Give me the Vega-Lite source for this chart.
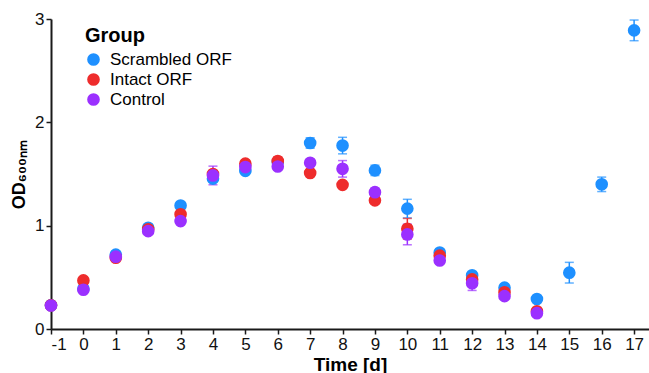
{
  "$schema": "https://vega.github.io/schema/vega-lite/v6.json",
  "width": 598,
  "height": 310,
  "autosize": {"type": "none"},
  "padding": {"left": 51, "top": 19, "right": 0, "bottom": 44},
  "background": "white",
  "config": {
    "view": {"stroke": null},
    "font": "Liberation Sans",
    "axis": {
      "grid": false,
      "domainColor": "#1a1a1a",
      "domainWidth": 2,
      "tickColor": "#1a1a1a",
      "tickWidth": 1.5,
      "tickSize": 5,
      "labelFont": "Liberation Sans",
      "labelFontSize": 17,
      "labelColor": "#111",
      "labelPadding": 2,
      "titleFont": "Liberation Sans",
      "titleFontSize": 18,
      "titleFontWeight": "bold",
      "titleColor": "#000"
    },
    "legend": {
      "titleFont": "Liberation Sans",
      "titleFontSize": 20,
      "titleFontWeight": "bold",
      "titleColor": "#000",
      "labelFont": "Liberation Sans",
      "labelFontSize": 17,
      "labelColor": "#000"
    }
  },
  "data": {
    "values": [
      {"t": -1, "od": 0.23, "err": 0.02, "g": "Scrambled ORF"},
      {"t": 0, "od": 0.39, "err": 0.02, "g": "Scrambled ORF"},
      {"t": 1, "od": 0.72, "err": 0.03, "g": "Scrambled ORF"},
      {"t": 2, "od": 0.98, "err": 0.03, "g": "Scrambled ORF"},
      {"t": 3, "od": 1.195, "err": 0.03, "g": "Scrambled ORF"},
      {"t": 4, "od": 1.455, "err": 0.03, "g": "Scrambled ORF"},
      {"t": 5, "od": 1.53, "err": 0.02, "g": "Scrambled ORF"},
      {"t": 6, "od": 1.615, "err": 0.03, "g": "Scrambled ORF"},
      {"t": 7, "od": 1.80, "err": 0.05, "g": "Scrambled ORF"},
      {"t": 8, "od": 1.775, "err": 0.08, "g": "Scrambled ORF"},
      {"t": 9, "od": 1.535, "err": 0.05, "g": "Scrambled ORF"},
      {"t": 10, "od": 1.165, "err": 0.09, "g": "Scrambled ORF"},
      {"t": 11, "od": 0.74, "err": 0.03, "g": "Scrambled ORF"},
      {"t": 12, "od": 0.52, "err": 0.03, "g": "Scrambled ORF"},
      {"t": 13, "od": 0.40, "err": 0.03, "g": "Scrambled ORF"},
      {"t": 14, "od": 0.29, "err": 0.02, "g": "Scrambled ORF"},
      {"t": 15, "od": 0.545, "err": 0.10, "g": "Scrambled ORF"},
      {"t": 16, "od": 1.40, "err": 0.07, "g": "Scrambled ORF"},
      {"t": 17, "od": 2.89, "err": 0.10, "g": "Scrambled ORF"},
      {"t": -1, "od": 0.23, "err": 0.02, "g": "Intact ORF"},
      {"t": 0, "od": 0.47, "err": 0.02, "g": "Intact ORF"},
      {"t": 1, "od": 0.69, "err": 0.03, "g": "Intact ORF"},
      {"t": 2, "od": 0.965, "err": 0.03, "g": "Intact ORF"},
      {"t": 3, "od": 1.11, "err": 0.03, "g": "Intact ORF"},
      {"t": 4, "od": 1.50, "err": 0.03, "g": "Intact ORF"},
      {"t": 5, "od": 1.60, "err": 0.03, "g": "Intact ORF"},
      {"t": 6, "od": 1.625, "err": 0.04, "g": "Intact ORF"},
      {"t": 7, "od": 1.51, "err": 0.03, "g": "Intact ORF"},
      {"t": 8, "od": 1.395, "err": 0.02, "g": "Intact ORF"},
      {"t": 9, "od": 1.245, "err": 0.03, "g": "Intact ORF"},
      {"t": 10, "od": 0.97, "err": 0.10, "g": "Intact ORF"},
      {"t": 11, "od": 0.71, "err": 0.03, "g": "Intact ORF"},
      {"t": 12, "od": 0.48, "err": 0.03, "g": "Intact ORF"},
      {"t": 13, "od": 0.355, "err": 0.03, "g": "Intact ORF"},
      {"t": 14, "od": 0.172, "err": 0.02, "g": "Intact ORF"},
      {"t": -1, "od": 0.227, "err": 0.02, "g": "Control"},
      {"t": 0, "od": 0.38, "err": 0.02, "g": "Control"},
      {"t": 1, "od": 0.70, "err": 0.03, "g": "Control"},
      {"t": 2, "od": 0.947, "err": 0.03, "g": "Control"},
      {"t": 3, "od": 1.044, "err": 0.03, "g": "Control"},
      {"t": 4, "od": 1.486, "err": 0.09, "g": "Control"},
      {"t": 5, "od": 1.567, "err": 0.03, "g": "Control"},
      {"t": 6, "od": 1.573, "err": 0.03, "g": "Control"},
      {"t": 7, "od": 1.609, "err": 0.03, "g": "Control"},
      {"t": 8, "od": 1.55, "err": 0.08, "g": "Control"},
      {"t": 9, "od": 1.324, "err": 0.04, "g": "Control"},
      {"t": 10, "od": 0.915, "err": 0.10, "g": "Control"},
      {"t": 11, "od": 0.663, "err": 0.03, "g": "Control"},
      {"t": 12, "od": 0.443, "err": 0.07, "g": "Control"},
      {"t": 13, "od": 0.318, "err": 0.03, "g": "Control"},
      {"t": 14, "od": 0.153, "err": 0.02, "g": "Control"}
    ]
  },
  "encoding": {
    "x": {
      "field": "t",
      "type": "quantitative",
      "scale": {"domain": [-1, 17.46], "nice": false, "zero": false},
      "axis": {"values": [-1,0,1,2,3,4,5,6,7,8,9,10,11,12,13,14,15,16,17], "labelExpr": "'' + datum.value", "title": "Time [d]", "titlePadding": 3, "titleFontSize": 19}
    },
    "y": {
      "field": "od",
      "type": "quantitative",
      "scale": {"domain": [0, 3], "nice": false},
      "axis": {"values": [0, 1, 2, 3], "labelExpr": "'' + datum.value", "title": "OD₆₀₀ₙₘ", "titlePadding": 6}
    },
    "color": {
      "field": "g",
      "type": "nominal",
      "scale": {"domain": ["Scrambled ORF", "Intact ORF", "Control"], "range": ["#1E90FF", "#EE2C2C", "#9B30FF"]},
      "legend": {"title": "Group", "orient": "none", "legendX": 34, "legendY": 7, "symbolType": "circle", "symbolSize": 160, "symbolOpacity": 1, "symbolStrokeWidth": 0, "rowPadding": 2, "titlePadding": 5, "labelOffset": 8}
    }
  },
  "layer": [
    {
      "mark": {"type": "errorbar", "ticks": {"size": 9, "thickness": 1.5}, "thickness": 1.5},
      "encoding": {
        "yError": {"field": "err"}
      }
    },
    {
      "mark": {"type": "point", "filled": true, "opacity": 1, "size": 160, "shape": "circle"}
    }
  ]
}
